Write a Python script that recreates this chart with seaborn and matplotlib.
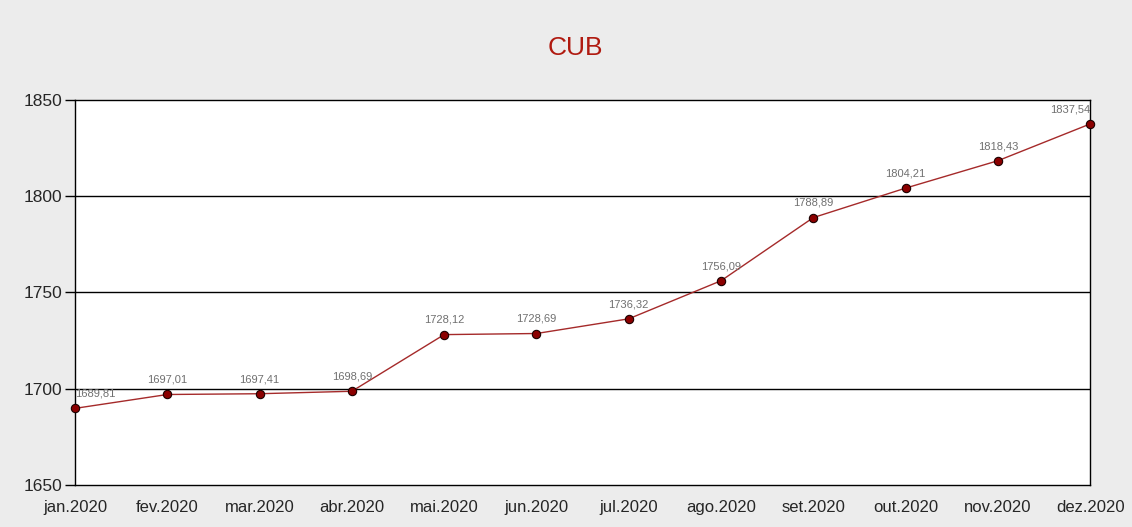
import numpy as np
import pandas as pd
import seaborn as sns
import matplotlib.pyplot as plt

# Data
months = ['jan.2020', 'fev.2020', 'mar.2020', 'abr.2020', 'mai.2020', 'jun.2020',
          'jul.2020', 'ago.2020', 'set.2020', 'out.2020', 'nov.2020', 'dez.2020']
cub = [1689.81, 1697.01, 1697.41, 1698.69, 1728.12, 1728.69,
       1736.32, 1756.09, 1788.89, 1804.21, 1818.43, 1837.54]

df = pd.DataFrame({'pos': np.arange(len(months)), 'cub': cub})

sns.set_style('white')
plt.rcParams['font.family'] = ['Liberation Sans', 'DejaVu Sans']

fig = plt.figure(figsize=(11.32, 5.27), dpi=100, facecolor='#ececec')
ax = fig.add_axes([0.0663, 0.0797, 0.8967, 0.7306])
ax.set_facecolor('white')

line_color = '#a52a2a'
sns.lineplot(data=df, x='pos', y='cub', ax=ax, color=line_color, linewidth=1,
             marker='o', markersize=6, markerfacecolor='#8b0000',
             markeredgecolor='#1a0000', markeredgewidth=0.8, zorder=5, clip_on=False)

# horizontal grid lines
for y in [1700, 1750, 1800]:
    ax.axhline(y, color='black', linewidth=1, zorder=1)

ax.set_xlim(0, len(months) - 1)
ax.set_ylim(1650, 1850)
ax.set_yticks([1650, 1700, 1750, 1800, 1850])
ax.set_xticks(df['pos'])
ax.set_xticklabels(months)
ax.tick_params(axis='y', length=7, width=1, color='black', labelsize=12.5, direction='out', left=True, pad=2)
ax.tick_params(axis='x', length=0, labelsize=12, pad=11)
ax.set_xlabel('')
ax.set_ylabel('')
for s in ax.spines.values():
    s.set_color('black')
    s.set_linewidth(1)

# value labels
for i, v in enumerate(cub):
    lbl = f'{v:.2f}'.replace('.', ',')
    ha = 'center'
    if i == 0:
        ha = 'left'
    elif i == len(cub) - 1:
        ha = 'right'
    ax.annotate(lbl, (i, v), xytext=(0, 7), textcoords='offset points',
                ha=ha, va='bottom', fontsize=8, color='#707070', zorder=6)

fig.text(0.508, 0.909, 'CUB', ha='center', va='center', fontsize=19, color='#b01a10')

fig.savefig('out.png', dpi=100, facecolor=fig.get_facecolor())
